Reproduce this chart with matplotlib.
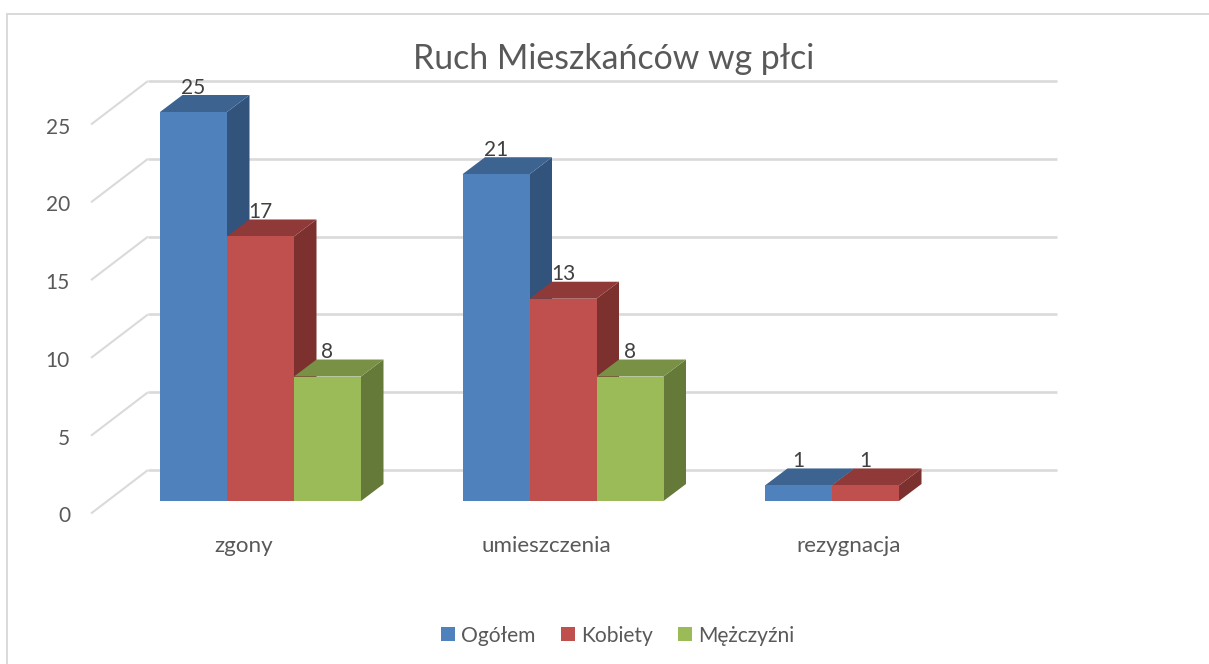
import matplotlib
matplotlib.use("Agg")
import matplotlib.pyplot as plt
from matplotlib.patches import Polygon, Patch, Rectangle

plt.rcParams['font.family'] = ['Lato', 'DejaVu Sans']

title = "Ruch Mieszkańców wg płci"
categories = ["zgony", "umieszczenia", "rezygnacja"]
series_names = ["Ogółem", "Kobiety", "Mężczyźni"]
ogolem = [25, 21, 1]
kobiety = [17, 13, 1]
mezczyzni = [8, 8, 0]
y_ticks = [0, 5, 10, 15, 20, 25]

front = ["#4F81BD", "#C0504D", "#9BBB59"]
side = ["#31537C", "#7C312F", "#657A39"]
top = ["#3D6390", "#8F3A38", "#789145"]
grid_c = "#DADADA"
text_c = "#595959"

W, H = 1209, 664
fig = plt.figure(figsize=(W / 100, H / 100), dpi=100, facecolor="white")
ax = fig.add_axes([0, 0, 1, 1])
ax.axis("off")

PX_X = 302.5          # pixels per category
PX_Y = 15.56          # pixels per unit
X0, Y0 = 260.5, 501   # pixel of category 0, value 0
ax.set_xlim((0 - X0) / PX_X, (W - X0) / PX_X)
ax.set_ylim((Y0 - H) / PX_Y, (Y0 - 0) / PX_Y)


def dx(p):
    return p / PX_X


def dy(p):
    return p / PX_Y


BW = 67.0 / PX_X
DX, DY = dx(22.5), dy(17)

# outer frame (open to the right and bottom edge of the picture)
ax.add_patch(Rectangle((6.5 / W, -0.05), 1.2, 1 - 13.5 / H + 0.05, transform=ax.transAxes,
                       fill=False, ec="#D9D9D9", lw=1.4, zorder=0))

# back wall gridlines, floor diagonals and value axis labels
x_left = dx(148 - X0)
x_right = dx(1057 - X0)
for v in y_ticks:
    yb = v + dy(31)
    ax.plot([x_left, x_right], [yb, yb], color=grid_c, lw=1.9, zorder=1,
            solid_capstyle="butt")
    ax.plot([dx(91 - X0), x_left], [v + dy(-12.5), yb], color=grid_c, lw=1.5, zorder=1,
            solid_capstyle="butt")
    ax.text(dx(70 - X0), v + dy(-15.5), str(v), ha="right", va="center",
            fontsize=15, color=text_c)

# bars
series = [ogolem, kobiety, mezczyzni]
z = 2
for ci, cat in enumerate(categories):
    for si, vals in enumerate(series):
        v = vals[ci]
        if not v:
            continue
        xc = ci + (si - 1) * BW
        xl_, xr = xc - BW / 2, xc + BW / 2
        ax.add_patch(Polygon([(xr, 0), (xr + DX, DY), (xr + DX, v + DY), (xr, v)],
                             fc=side[si], ec="none", zorder=z))
        ax.add_patch(Polygon([(xl_, v), (xl_ + DX, v + DY), (xr + DX, v + DY), (xr, v)],
                             fc=top[si], ec="none", zorder=z))
        ax.bar(xc, v, width=BW, color=front[si], zorder=z + 0.5, linewidth=0)
        z += 1
        ax.annotate(str(v), (xc, v), xytext=(0, 24.5 * 0.72), textcoords="offset points",
                    ha="center", va="center", fontsize=15, color="#404040", zorder=50)

for ci, cat in enumerate(categories):
    ax.text(ci + dx(-17), dy(-44.5), cat, ha="center", va="center",
            fontsize=16.1, color=text_c)

ax.text(dx(613.5 - X0), dy(501 - 59), title, ha="center", va="center",
        fontsize=24.4, color=text_c)

handles = [Patch(fc=c, ec="none") for c in front]
ax.legend(handles, series_names, loc="center", ncol=3, frameon=False,
          bbox_to_anchor=(617.5 / W, 1 - 635.5 / H), bbox_transform=ax.transAxes,
          fontsize=15.1, labelcolor=text_c, handlelength=0.67, handleheight=0.67,
          handletextpad=0.3, columnspacing=1.2)

fig.savefig("out.png", dpi=100, facecolor="white")
